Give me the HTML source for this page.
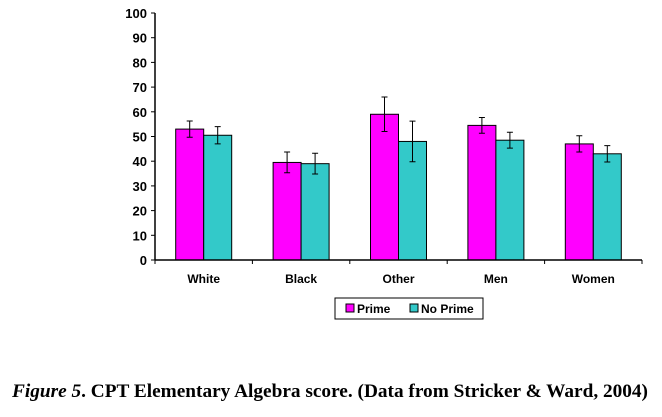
<!DOCTYPE html>
<html><head><meta charset="utf-8"><style>
body{margin:0;background:#fff;width:662px;height:412px;overflow:hidden}
svg text{font-family:"Liberation Sans",Arial,sans-serif}
</style></head><body>
<svg width="662" height="412">
<g id="plot"></g>
<g>
<rect x="335" y="298" width="148" height="21" fill="#fff" stroke="#000" stroke-width="1"/>
<rect x="346" y="304" width="8" height="8" fill="#ff00ff" stroke="#000"/>
<text x="357" y="313" font-size="12" font-weight="bold">Prime</text>
<rect x="410" y="304" width="8" height="8" fill="#33c9c9" stroke="#000"/>
<text x="421" y="313" font-size="12" font-weight="bold">No Prime</text>
</g>
<text x="330" y="397" text-anchor="middle" font-size="19" font-weight="bold" textLength="636" lengthAdjust="spacingAndGlyphs" style="font-family:'Liberation Serif',serif"><tspan font-style="italic">Figure 5</tspan>. CPT Elementary Algebra score. (Data from Stricker &amp; Ward, 2004)</text>
</svg>
<script>
const categories=["White","Black","Other","Men","Women"];
const primeValues=[53,39.5,59,54.5,47];
const noPrimeValues=[50.5,39,48,48.5,43];
const primeErr=[3.3,4.2,7,3.2,3.3];
const noPrimeErr=[3.5,4.2,8.2,3.2,3.3];
const yTicks=[0,10,20,30,40,50,60,70,80,90,100];
const NS="http://www.w3.org/2000/svg";
const g=document.getElementById('plot');
const x0=155,x1=642,yb=260,yt=13;
const cw=(x1-x0)/categories.length;
const y=v=>yb-(v/100)*(yb-yt);
function mk(t,a){const e=document.createElementNS(NS,t);for(const k in a)e.setAttribute(k,a[k]);g.appendChild(e);return e;}
yTicks.forEach(v=>{
 const l=mk('line',{x1:x0-4,x2:x0,y1:y(v),y2:y(v),stroke:'#000'});
 
 
 const t=mk('text',{x:x0-8,y:y(v)+5,'text-anchor':'end','font-size':13,'font-weight':'bold'});
 t.textContent=v;
 
 
});
categories.forEach((c,i)=>{
 const cx=x0+cw*i;
 const tk=mk('line',{x1:cx,x2:cx,y1:yb,y2:yb+4,stroke:'#000'});
 
 
 const bw=28,gs=(cw-2*bw)/2;
 [[primeValues,primeErr,'#ff00ff','prime'],[noPrimeValues,noPrimeErr,'#33c9c9','no-prime']].forEach(([vals,errs,col,nm],j)=>{
  const bx=cx+gs+j*bw,v=vals[i];
  const r=mk('rect',{x:bx,y:y(v),width:bw,height:yb-y(v),fill:col,stroke:'#000','stroke-width':1});
  
  
  const mx=bx+bw/2,e=errs[i];
  const eb=mk('path',{d:`M${mx},${y(v+e)}V${y(v-e)}M${mx-3},${y(v+e)}H${mx+3}M${mx-3},${y(v-e)}H${mx+3}`,stroke:'#000',fill:'none'});
  
  
 });
 const t=mk('text',{x:cx+cw/2,y:yb+23,'text-anchor':'middle','font-size':12,'font-weight':'bold'});
 t.textContent=c;
 
 
});
const lt=mk('line',{x1:x1,x2:x1,y1:yb,y2:yb+4,stroke:'#000'});


const ya=mk('line',{x1:x0,x2:x0,y1:yt,y2:yb,stroke:'#000','stroke-width':1.5});


const xa=mk('line',{x1:x0,x2:x1,y1:yb,y2:yb,stroke:'#000','stroke-width':1.5});


</script>
</body></html>
